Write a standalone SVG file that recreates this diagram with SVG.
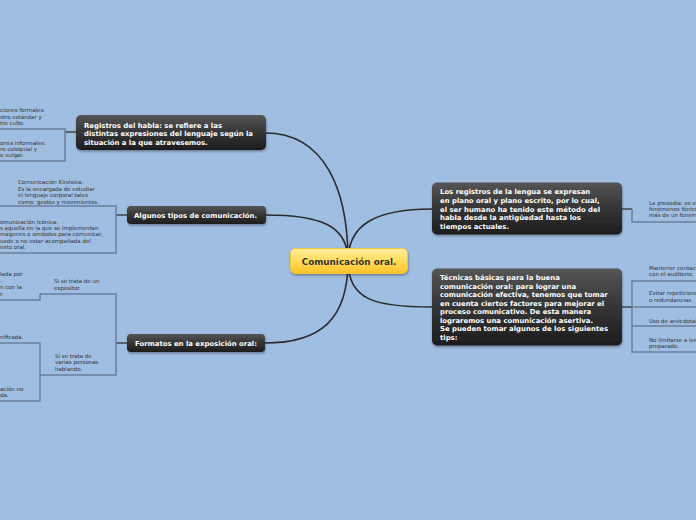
<svg xmlns="http://www.w3.org/2000/svg" width="696" height="520" viewBox="0 0 696 520">
<defs>
<linearGradient id="dark" x1="0" y1="0" x2="0" y2="1">
<stop offset="0" stop-color="#555"/><stop offset="0.5" stop-color="#353535"/><stop offset="1" stop-color="#1d1d1d"/>
</linearGradient>
<linearGradient id="yellow" x1="0" y1="0" x2="0" y2="1">
<stop offset="0" stop-color="#fff0a0"/><stop offset="0.5" stop-color="#ffdc5a"/><stop offset="1" stop-color="#fcc22a"/>
</linearGradient>
<filter id="sh" x="-10%" y="-20%" width="120%" height="160%">
<feDropShadow dx="0.5" dy="1.5" stdDeviation="1.2" flood-color="#000" flood-opacity="0.35"/>
</filter>
</defs>
<style>
.bg{fill:#a0bee2}
.curve{fill:none;stroke:#2b2b2b;stroke-width:1.6}
.link{fill:none;stroke:#333;stroke-width:1.3}
.sub{fill:none;stroke:#6a7f9c;stroke-width:1.5}
.node{fill:url(#dark);filter:url(#sh)}
.nt{font-family:"DejaVu Sans",Verdana,sans-serif;font-weight:bold;font-size:6.9px;fill:#fff}
.ct{font-family:"DejaVu Sans",Verdana,sans-serif;font-weight:bold;font-size:8.8px;fill:#333}
.st{font-family:"DejaVu Sans",Verdana,sans-serif;font-size:5.5px;fill:#333}
</style>
<rect class="bg" x="0" y="0" width="696" height="520"/>

<g id="connectors">
<path class="curve" d="M265 133 C325 133 348 190 348 261"/>
<path class="curve" d="M265 215 C320 215 348 225 348 261"/>
<path class="curve" d="M265 343 C320 343 348 320 348 261"/>
<path class="curve" d="M432 209 C375 209 348 225 348 261"/>
<path class="curve" d="M432 307 C375 307 348 300 348 261"/>
<!-- Registros subtopics -->
<path class="link" d="M65 132 H76"/>
<path class="sub" d="M0 129 H65 V161 H0"/>
<!-- Algunos subtopics -->
<path class="link" d="M116 215 H127"/>
<path class="sub" d="M0 206 H116 V253 H0"/>
<!-- Formatos subtopics -->
<path class="link" d="M116 343 H127"/>
<path class="sub" d="M40 294 H116 V375 H40"/>
<path class="sub" d="M0 300 H40 V294"/>
<path class="sub" d="M0 343 H40 V401 H0"/>
<!-- Right subtopics -->
<path class="link" d="M621 209 H632"/>
<path class="sub" d="M632 209 V222 H696"/>
<path class="link" d="M621 307 H632"/>
<path class="sub" d="M696 281 H632 V352 H696 M632 307 H696 M632 326 H696"/>
</g>

<g id="central">
<rect x="290.5" y="248.5" width="117" height="25" rx="5" fill="url(#yellow)" stroke="#f2c43a" stroke-width="1" filter="url(#sh)"/>
<text class="ct" x="349" y="264.8" text-anchor="middle">Comunicación oral.</text>
</g>

<g id="registros">
<rect class="node" x="76" y="115" width="190" height="35" rx="5"/>
<text class="nt" x="84" y="127.5">Registros del habla: se refiere a las</text>
<text class="nt" x="84" y="136">distintas expresiones del lenguaje según la</text>
<text class="nt" x="84" y="144.5">situación a la que atravesemos.</text>
</g>

<g id="algunos">
<rect class="node" x="127" y="206" width="139" height="18" rx="4"/>
<text class="nt" x="134" y="218">Algunos tipos de comunicación.</text>
</g>

<g id="formatos">
<rect class="node" x="127" y="334" width="138" height="18" rx="4"/>
<text class="nt" x="135" y="346">Formatos en la exposición oral:</text>
</g>

<g id="losregistros">
<rect class="node" x="432" y="182.5" width="190" height="52" rx="5"/>
<text class="nt" x="440" y="194.2">Los registros de la lengua se expresan</text>
<text class="nt" x="440" y="202.8">en plano oral y plano escrito, por lo cual,</text>
<text class="nt" x="440" y="211.5">el ser humano ha tenido este método del</text>
<text class="nt" x="440" y="220.1">habla desde la antigüedad hasta los</text>
<text class="nt" x="440" y="228.7">tiempos actuales.</text>
</g>

<g id="tecnicas">
<rect class="node" x="432" y="268.5" width="190" height="77" rx="5"/>
<text class="nt" x="440" y="280.2">Técnicas básicas para la buena</text>
<text class="nt" x="440" y="288.7">comunicación oral: para lograr una</text>
<text class="nt" x="440" y="297.2">comunicación efectiva, tenemos que tomar</text>
<text class="nt" x="440" y="305.7">en cuenta ciertos factores para mejorar el</text>
<text class="nt" x="440" y="314.2">proceso comunicativo. De esta manera</text>
<text class="nt" x="440" y="322.7">lograremos una comunicación asertiva.</text>
<text class="nt" x="440" y="331.2">Se pueden tomar algunos de los siguientes</text>
<text class="nt" x="440" y="339.7">tips:</text>
</g>

<g id="formales">
<text class="st" x="0" y="112">ciones formales:</text>
<text class="st" x="0" y="118.5">stro estándar y</text>
<text class="st" x="0" y="125">tro culto.</text>
</g>
<g id="informales">
<text class="st" x="0" y="144.5">ones informales:</text>
<text class="st" x="0" y="151">ro coloquial y</text>
<text class="st" x="0" y="157">o vulgar.</text>
</g>
<g id="kinesica">
<text class="st" x="18" y="184">Comunicación Kinésica:</text>
<text class="st" x="18" y="190.5">Es la encargada de estudiar</text>
<text class="st" x="18" y="197">el lenguaje corporal tales</text>
<text class="st" x="18" y="204">como: gestos y movimientos.</text>
</g>
<g id="iconica">
<text class="st" x="0" y="223.5">omunicación Icónica:</text>
<text class="st" x="0" y="229.5">s aquella en la que se implementan</text>
<text class="st" x="0" y="235.5">mágenes o símbolos para comunicar,</text>
<text class="st" x="0" y="242.5">uede o no estar acompañada del</text>
<text class="st" x="0" y="249">exto oral.</text>
</g>
<g id="expositor">
<text class="st" x="54" y="283">Si se trata de un</text>
<text class="st" x="54" y="290">expositor.</text>
</g>
<g id="expositor-detalle">
<text class="st" x="0" y="276">lada por</text>
<text class="st" x="0" y="282">.</text>
<text class="st" x="0" y="289">n con la</text>
<text class="st" x="0" y="295.5">r.</text>
</g>
<g id="varias">
<text class="st" x="55" y="357.5">Si se trata de</text>
<text class="st" x="55" y="364">varias personas</text>
<text class="st" x="55" y="371">hablando.</text>
</g>
<g id="planificada">
<text class="st" x="0" y="339">nificada.</text>
</g>
<g id="noplanificada">
<text class="st" x="0" y="391">ación no</text>
<text class="st" x="0" y="397">da.</text>
</g>
<g id="prosodia">
<text class="st" x="649" y="204.5">La prosodia: es e</text>
<text class="st" x="649" y="210.5">fenómenos fónico</text>
<text class="st" x="649" y="216.5">más de un fonem</text>
</g>
<g id="contacto">
<text class="st" x="649" y="269.5">Mantener contact</text>
<text class="st" x="649" y="276">con el auditorio.</text>
</g>
<g id="repeticiones">
<text class="st" x="649" y="295">Evitar repeticione</text>
<text class="st" x="649" y="301.5">o redundancias.</text>
</g>
<g id="anecdotas">
<text class="st" x="649" y="322.5">Uso de anécdotas</text>
</g>
<g id="leer">
<text class="st" x="649" y="342">No limitarse a lee</text>
<text class="st" x="649" y="348">preparado.</text>
</g>
</svg>
